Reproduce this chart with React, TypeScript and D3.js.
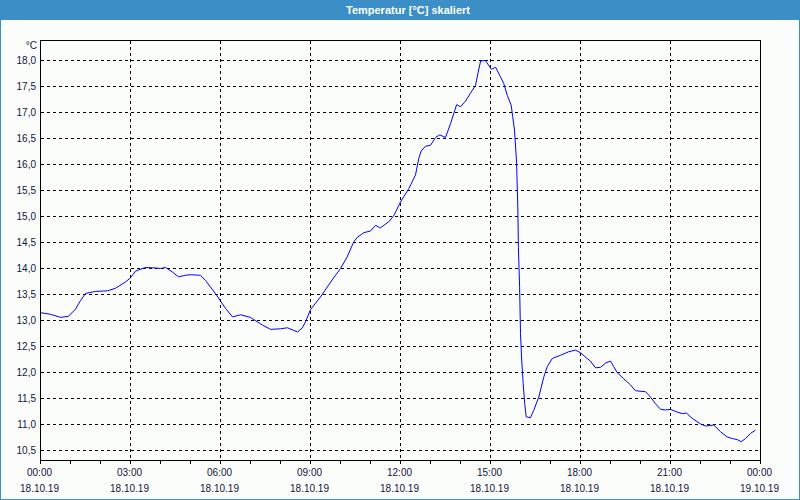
import React from "react";
import * as d3 from "d3";

// time in hours since 18.10.19 00:00
const hours = [
  0, 0.33, 0.67, 0.93, 1.17, 1.33, 1.5, 1.83, 2.23, 2.5, 2.83, 3.0, 3.17, 3.5, 3.83, 4.0, 4.17, 4.4, 4.6, 4.83,
  5.0, 5.33, 5.5, 5.83, 6.17, 6.4, 6.67, 7.0, 7.4, 7.67, 8.0, 8.23, 8.57, 8.73, 8.83, 9.0, 9.33, 9.72, 10.0, 10.22,
  10.44, 10.56, 10.78, 11.0, 11.17, 11.33, 11.61, 11.78, 12.0, 12.28, 12.5, 12.61, 12.69, 12.83, 13.0, 13.17, 13.31, 13.5, 13.67, 13.87,
  14.0, 14.17, 14.33, 14.5, 14.58, 14.67, 14.83, 15.03, 15.17, 15.33, 15.44, 15.56, 15.69, 15.74, 15.8, 15.84, 15.87, 15.91, 15.93, 15.97,
  16.0, 16.04, 16.09, 16.14, 16.19, 16.33, 16.44, 16.61, 16.78, 16.89, 17.06, 17.33, 17.61, 17.83, 18.0, 18.22, 18.33, 18.5, 18.67, 18.83,
  19.0, 19.11, 19.22, 19.44, 19.67, 19.83, 20.17, 20.33, 20.5, 20.67, 20.83, 21.0, 21.22, 21.39, 21.53, 21.72, 22.0, 22.17, 22.44, 22.67,
  22.89, 23.06, 23.22, 23.36, 23.5, 23.67, 23.83,
];
const temps = [
  13.15, 13.12, 13.06, 13.08, 13.22, 13.38, 13.52, 13.56, 13.57, 13.62, 13.74, 13.82, 13.95, 14.02, 14.01, 14.0, 14.02, 13.93, 13.84, 13.87,
  13.88, 13.87, 13.77, 13.52, 13.23, 13.07, 13.11, 13.06, 12.91, 12.83, 12.84, 12.86, 12.78, 12.86, 12.97, 13.21, 13.45, 13.78, 14.0, 14.22,
  14.51, 14.6, 14.69, 14.72, 14.83, 14.78, 14.9, 15.02, 15.28, 15.54, 15.8, 16.12, 16.26, 16.35, 16.37, 16.52, 16.57, 16.52, 16.79, 17.15,
  17.11, 17.22, 17.37, 17.52, 17.75, 17.99, 18.0, 17.83, 17.87, 17.69, 17.56, 17.33, 17.14, 16.92, 16.66, 16.3, 16.02, 15.18, 14.41, 13.65,
  12.75, 12.24, 11.79, 11.4, 11.15, 11.13, 11.27, 11.53, 11.92, 12.11, 12.27, 12.33, 12.4, 12.43, 12.38, 12.27, 12.22, 12.09, 12.1, 12.18,
  12.22, 12.11, 12.0, 11.88, 11.76, 11.65, 11.63, 11.53, 11.4, 11.29, 11.28, 11.29, 11.24, 11.21, 11.22, 11.12, 11.01, 10.97, 10.99, 10.86,
  10.76, 10.73, 10.71, 10.67, 10.73, 10.83, 10.89,
];

const yTicks = [10.5, 11, 11.5, 12, 12.5, 13, 13.5, 14, 14.5, 15, 15.5, 16, 16.5, 17, 17.5, 18];
const xMajor = [0, 3, 6, 9, 12, 15, 18, 21, 24];
const xTimeLabels = ["00:00", "03:00", "06:00", "09:00", "12:00", "15:00", "18:00", "21:00", "00:00"];
const xDateLabels = ["18.10.19", "18.10.19", "18.10.19", "18.10.19", "18.10.19", "18.10.19", "18.10.19", "18.10.19", "19.10.19"];
const xMinor = d3.range(0, 25, 1);

const title = "Temperatur [°C] skaliert";
const unit = "°C";

const W = 800;
const H = 500;
const L = 40.5, R = 760.5, T = 40.5, B = 460.5;
const blue = "#3c8fc6";
const txt = "#14143a";
const font = "'Liberation Sans', Arial, sans-serif";

export default function App() {
  const x = d3.scaleLinear().domain([0, 24]).range([L, R]);
  const y = d3.scaleLinear().domain([10.3077, 18.3846]).range([B, T]);
  const c = (v: number) => Math.round(v - 0.5) + 0.5;
  const line = d3
    .line<number>()
    .x((_, i) => x(hours[i]))
    .y((d) => y(d))
    .curve(d3.curveLinear);
  const fmt = (v: number) => v.toFixed(1).replace(".", ",");

  return (
    <svg
      width={W}
      height={H}
      style={{ position: "absolute", left: 0, top: 0, display: "block" }}
      fontFamily={font}
    >
      <rect x={0} y={0} width={W} height={H} fill="#fbfdfb" />
      <rect x={0} y={0} width={W} height={20} fill={blue} />
      <rect x={0} y={0} width={1} height={H} fill={blue} />
      <rect x={W - 1} y={0} width={1} height={H} fill={blue} />
      <rect x={0} y={H - 1} width={W} height={1} fill={blue} />
      <text x={408} y={14} textAnchor="middle" fill="#ffffff" fontWeight="bold" fontSize={11}>
        {title}
      </text>

      {/* grid */}
      <g stroke="#000" strokeWidth={1} strokeDasharray="3,3" shapeRendering="crispEdges">
        {yTicks.map((t) => (
          <line key={"gy" + t} x1={L} x2={R} y1={c(y(t))} y2={c(y(t))} />
        ))}
        {xMajor.slice(1, -1).map((t) => (
          <line key={"gx" + t} x1={c(x(t))} x2={c(x(t))} y1={T} y2={B} />
        ))}
      </g>

      {/* frame */}
      <rect x={L} y={T} width={R - L} height={B - T} fill="none" stroke="#000" strokeWidth={1} shapeRendering="crispEdges" />

      {/* x ticks */}
      <g stroke="#000" strokeWidth={1} shapeRendering="crispEdges">
        {xMinor.map((t) => (
          <line key={"tx" + t} x1={c(x(t))} x2={c(x(t))} y1={B} y2={B + 3} />
        ))}
      </g>

      {/* y labels */}
      <g fontSize={10} fill={txt} textAnchor="end">
        {yTicks.map((t) => (
          <text key={"ly" + t} x={36} y={y(t) + 3.5}>
            {fmt(t)}
          </text>
        ))}
        <text x={37} y={49}>{unit}</text>
      </g>

      {/* x labels */}
      <g fontSize={10} fill={txt} textAnchor="middle">
        {xMajor.map((t, i) => (
          <g key={"lx" + i}>
            <text x={x(t) - 1} y={476}>{xTimeLabels[i]}</text>
            <text x={x(t) - 1} y={492}>{xDateLabels[i]}</text>
          </g>
        ))}
      </g>

      <path d={line(temps) || ""} fill="none" stroke="#0000ff" strokeWidth={1} />
    </svg>
  );
}
